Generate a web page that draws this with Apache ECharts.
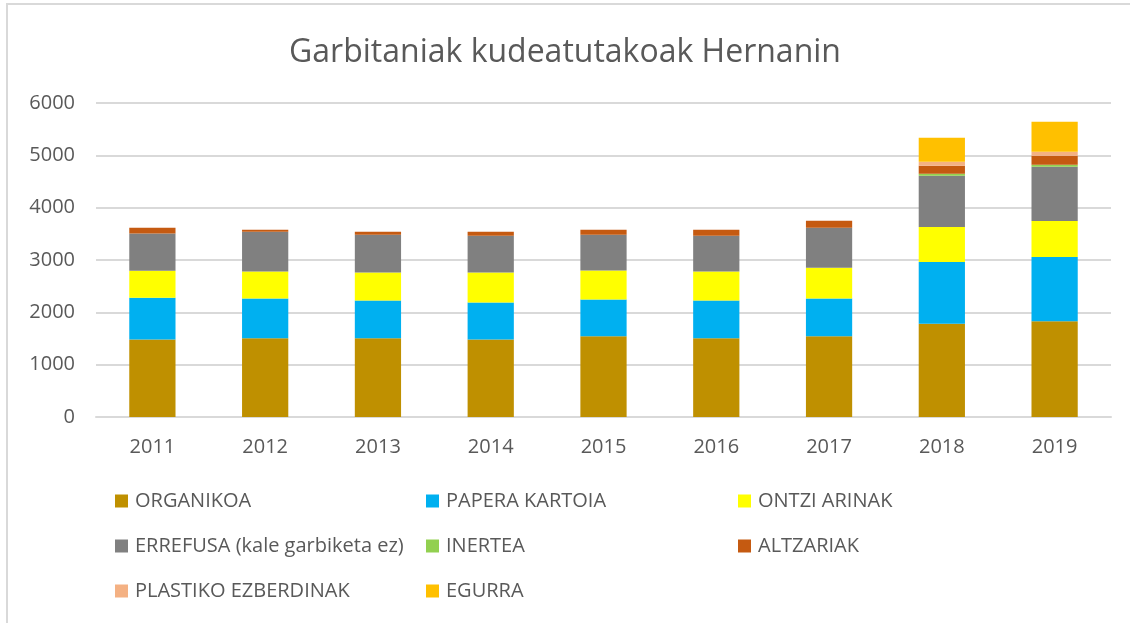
<!DOCTYPE html>
<html>
<head>
<meta charset="utf-8">
<script src="https://cdn.jsdelivr.net/npm/echarts@6/dist/echarts.min.js"></script>
<style>
  html, body { margin: 0; padding: 0; background: #fff; }
  #chart { width: 1130px; height: 623px; }
</style>
</head>
<body>
<div id="chart"></div>
<script>
  // urteak
  const years = ['2011', '2012', '2013', '2014', '2015', '2016', '2017', '2018', '2019'];

  // tonak, irudiatik irakurrita
  const organikoa = [1480, 1507, 1507, 1481, 1545, 1507, 1545, 1781, 1832];
  const paperaKartoia = [800, 756, 718, 706, 699, 718, 718, 1181, 1225];
  const ontziArinak = [515, 515, 534, 572, 553, 553, 591, 670, 690];
  const errefusa = [712, 763, 725, 706, 687, 687, 763, 976, 1034];
  const inertea = [0, 0, 0, 0, 0, 0, 0, 39, 38];
  const altzariak = [108, 38, 57, 76, 95, 114, 134, 153, 172];
  const plastikoa = [0, 0, 0, 0, 0, 0, 0, 77, 77];
  const egurra = [0, 0, 0, 0, 0, 0, 0, 459, 574];

  const yTicks = [0, 1000, 2000, 3000, 4000, 5000, 6000];

  const names = ['ORGANIKOA', 'PAPERA KARTOIA', 'ONTZI ARINAK', 'ERREFUSA (kale garbiketa ez)',
    'INERTEA', 'ALTZARIAK', 'PLASTIKO EZBERDINAK', 'EGURRA'];
  const values = [organikoa, paperaKartoia, ontziArinak, errefusa, inertea, altzariak, plastikoa, egurra];
  const colors = ['#BF9000', '#00B0F0', '#FFFF00', '#808080', '#92D050', '#C55A11', '#F4B183', '#FFC000'];

  const font = '"Open Sans", sans-serif';
  const txt = '#595959';

  const myChart = echarts.init(document.getElementById('chart'));

  const legendBase = {
    orient: 'vertical',
    top: 491,
    padding: 0,
    itemWidth: 13,
    itemHeight: 13,
    itemGap: 25,
    icon: 'rect',
    textStyle: { color: txt, fontSize: 20, fontFamily: font, lineHeight: 20, padding: [0, 0, 0, 2] }
  };

  let option = {
    backgroundColor: '#fff',
    color: colors,
    animation: false,
    title: {
      text: 'Garbitaniak kudeatutakoak Hernanin',
      left: 'center',
      top: 32,
      padding: [5, 0, 5, 14],
      textStyle: { color: txt, fontSize: 32, fontWeight: 'normal', fontFamily: font }
    },
    graphic: [{
      type: 'rect',
      shape: { x: 7, y: 4, width: 1200, height: 700 },
      style: { fill: 'none', stroke: '#d9d9d9', lineWidth: 2 },
      silent: true
    }],
    legend: [
      Object.assign({ left: 115, data: [names[0], names[3], names[6]] }, legendBase),
      Object.assign({ left: 426, data: [names[1], names[4], names[7]] }, legendBase),
      Object.assign({ left: 738, data: [names[2], names[5]] }, legendBase)
    ],
    grid: { left: 96, right: 19, top: 103, bottom: 206 },
    xAxis: {
      type: 'category',
      data: years,
      axisLine: { lineStyle: { color: '#d9d9d9', width: 2 } },
      axisTick: { show: false },
      axisLabel: { color: txt, fontSize: 20, fontFamily: font, margin: 20 }
    },
    yAxis: {
      type: 'value',
      min: yTicks[0],
      max: yTicks[yTicks.length - 1],
      interval: 1000,
      axisLine: { show: false },
      axisTick: { show: false },
      splitLine: { lineStyle: { color: '#d9d9d9', width: 2 } },
      axisLabel: { color: txt, fontSize: 20, fontFamily: font, margin: 21, formatter: v => String(v) }
    },
    series: names.map((n, i) => ({
      name: n,
      type: 'bar',
      stack: 'guztira',
      barWidth: '41%',
      data: values[i]
    }))
  };
  myChart.setOption(option);
</script>
</body>
</html>
